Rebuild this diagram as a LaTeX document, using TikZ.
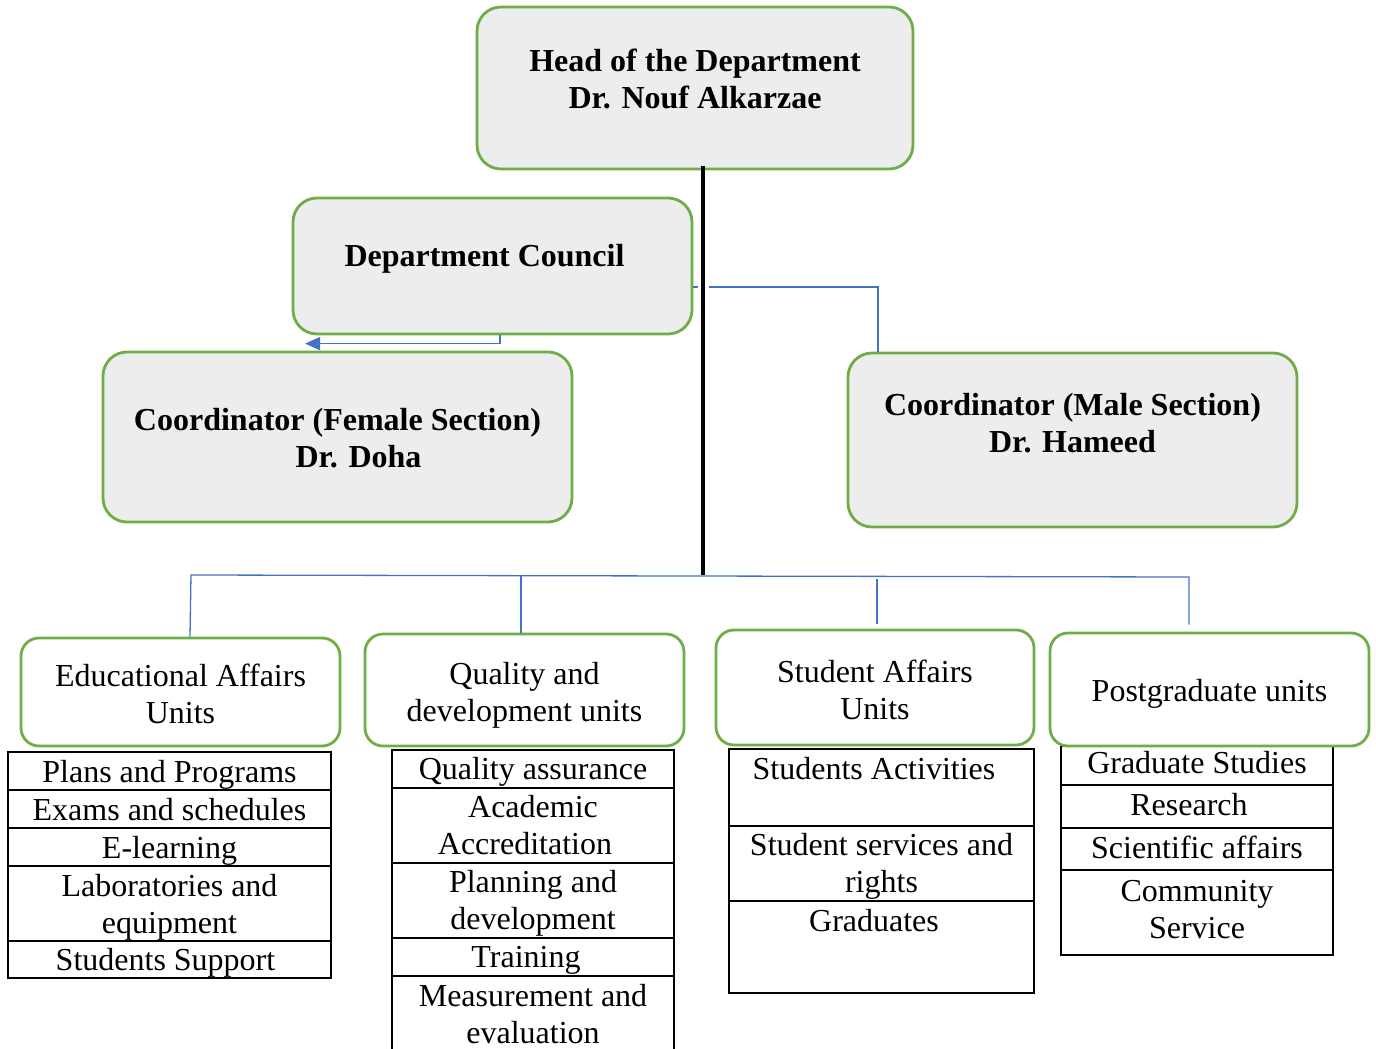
\documentclass[tikz,border=0pt]{standalone}
\usepackage{fontspec}
\setmainfont{Liberation Serif}
\usetikzlibrary{arrows.meta}
\definecolor{gborder}{HTML}{70AD47}
\definecolor{gfill}{HTML}{EDEDED}
\definecolor{bline}{HTML}{4472C4}
\newcommand\liftbox[3]{\hbox{\kern#1\relax\raisebox{#2}[\height][\depth]{\begin{tabular}{@{}c@{}}#3\end{tabular}}\kern-#1\relax}}
\tikzset{
 gbox/.style={draw=gborder, line width=2.8pt, rounded corners=24pt, inner sep=0pt, fill=gfill, font=\fontsize{32}{37}\selectfont\bfseries},
 ubox/.style={draw=gborder, line width=2.8pt, rounded corners=18pt, inner sep=0pt, fill=white, font=\fontsize{32}{37}\selectfont},
 cell/.style={draw=black, line width=2.2pt, inner sep=0pt, font=\fontsize{32}{37}\selectfont},
 bl/.style={draw=bline, line width=1.3pt},
 spine/.style={draw=black, line width=4pt}
}
\begin{document}
\begin{tikzpicture}[x=1pt,y=-1pt]
\useasboundingbox (0,0) rectangle (1376,1049);
% tables
\node[cell, minimum width=323pt, minimum height=38pt] (t1a) at (169.5,771) {\liftbox{0pt}{-4pt}{Plans and Programs}};
\node[cell, minimum width=323pt, minimum height=38pt] (t1b) at (169.5,809) {\liftbox{0pt}{-4pt}{Exams and schedules}};
\node[cell, minimum width=323pt, minimum height=38pt] (t1c) at (169.5,847) {\liftbox{0pt}{-4pt}{E-learning}};
\node[cell, minimum width=323pt, minimum height=75pt] (t1d) at (169.5,903.5) {\liftbox{0pt}{-4pt}{Laboratories and\\equipment}};
\node[cell, minimum width=323pt, minimum height=37pt] (t1e) at (169.5,959.5) {\liftbox{-4pt}{-4pt}{Students Support}};
%
\node[cell, minimum width=282pt, minimum height=38pt] (t2a) at (533,769) {\liftbox{0pt}{-3.5pt}{Quality assurance}};
\node[cell, minimum width=282pt, minimum height=75pt] (t2b) at (533,825.5) {\liftbox{0pt}{-3.5pt}{Academic\\\hspace*{-16pt}Accreditation}};
\node[cell, minimum width=282pt, minimum height=75pt] (t2c) at (533,900.5) {\liftbox{0pt}{-3.5pt}{Planning and\\development}};
\node[cell, minimum width=282pt, minimum height=38pt] (t2d) at (533,957) {\liftbox{-7pt}{-3.5pt}{Training}};
\node[cell, minimum width=282pt, minimum height=80pt] (t2e) at (533,1016) {\liftbox{0pt}{-1.5pt}{Measurement and\\evaluation}};
%
\node[cell, minimum width=305pt, minimum height=77pt] (t3a) at (881.5,787.5) {\liftbox{-7.5pt}{15pt}{Students Activities}};
\node[cell, minimum width=305pt, minimum height=75pt] (t3b) at (881.5,863.5) {\liftbox{0pt}{-3.5pt}{Student services and\\rights}};
\node[cell, minimum width=305pt, minimum height=92pt] (t3c) at (881.5,947) {\liftbox{-7.5pt}{23pt}{Graduates}};
%
\node[cell, minimum width=272pt, minimum height=39pt] (t4a) at (1197,765.5) {\liftbox{0pt}{-1pt}{Graduate Studies}};
\node[cell, minimum width=272pt, minimum height=43pt] (t4b) at (1197,806.5) {\liftbox{-8pt}{-2pt}{Research}};
\node[cell, minimum width=272pt, minimum height=42pt] (t4c) at (1197,849) {\liftbox{0pt}{-2.5pt}{Scientific affairs}};
\node[cell, minimum width=272pt, minimum height=85pt] (t4d) at (1197,912.5) {\liftbox{0pt}{0pt}{Community\\Service}};
% main boxes
\node[gbox, minimum width=436pt, minimum height=162pt] (head) at (695,88) {\liftbox{0pt}{5pt}{Head of the Department\\Dr. Nouf Alkarzae}};
\node[gbox, minimum width=399pt, minimum height=136pt] (council) at (492.5,266) {\liftbox{-8pt}{7pt}{Department Council}};
\node[gbox, minimum width=469pt, minimum height=170pt] (female) at (337.5,437) {\liftbox{0pt}{-5pt}{Coordinator (Female Section)\\\hspace*{42pt}Dr. Doha}};
\node[gbox, minimum width=449pt, minimum height=174pt] (male) at (1072.5,440) {\liftbox{0pt}{13pt}{Coordinator (Male Section)\\Dr. Hameed}};
% unit boxes
\node[ubox, minimum width=319pt, minimum height=108pt] (edu) at (180.5,692) {\liftbox{0pt}{-6pt}{Educational Affairs\\Units}};
\node[ubox, minimum width=319pt, minimum height=112pt] (qual) at (524.5,690) {\liftbox{0pt}{-6pt}{Quality and\\development units}};
\node[ubox, minimum width=318pt, minimum height=115pt] (stu) at (875,687.5) {\liftbox{0pt}{-6pt}{Student Affairs\\Units}};
\node[ubox, minimum width=319pt, minimum height=113pt] (post) at (1209.5,689.5) {\liftbox{0pt}{-5pt}{Postgraduate units}};
% connectors
\draw[bl, -{Triangle[length=15pt,width=13pt]}] ([xshift=7.5pt]council.south) |- ([xshift=-32.5pt,yshift=7pt]female.north);
\draw[bl] ([yshift=-21pt]council.east) -| ([xshift=-194.5pt]male.north);
\coordinate (hub) at (703,575);
\coordinate (busL) at (191,575);
\coordinate (busR) at (1189,577);
\draw[bl] ([xshift=9.5pt]edu.north) -- (busL) -- (busR) -- ([xshift=-20.5pt,yshift=7pt]post.north);
\draw[bl] ([xshift=-3.5pt]qual.north) -- ++(0pt,58pt);
\draw[bl] ([xshift=2pt,yshift=5pt]stu.north) -- ++(0pt,45pt);
\draw[draw=white, line width=11pt] (703,282) -- (703,293);
\draw[spine] ([xshift=8pt,yshift=4pt]head.south) -- (hub);
\end{tikzpicture}
\end{document}
